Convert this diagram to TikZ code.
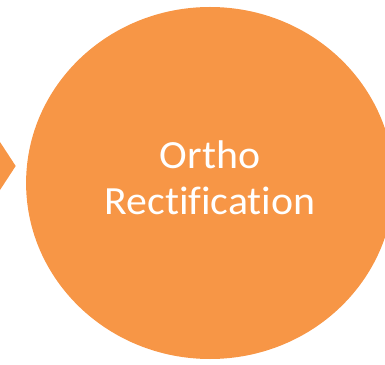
\documentclass[tikz,border=0pt]{standalone}
\usepackage{fontspec}
\setmainfont{Carlito}[Ligatures=NoCommon]
\definecolor{stepfill}{HTML}{F79646}
\tikzset{
    stepcircle/.style={circle,fill=stepfill,minimum size=352pt,inner sep=0pt,xscale=1.045},
    steplabel/.style={text=white,align=center,inner sep=0pt,xscale=1.045,
        font=\fontsize{40}{45.5}\selectfont}
}
\begin{document}
\begin{tikzpicture}[x=1pt,y=1pt]
    \clip (0,0) rectangle (385,364);
    \fill[stepfill] (-20,252.6) -- (15.7,198) -- (-20,143.4) -- cycle;
    \node[stepcircle] (ortho) at (210,181) {};
    \node[steplabel] (orthotext) at ([yshift=5pt]ortho.center) {Ortho\\Rectification};
\end{tikzpicture}
\end{document}
